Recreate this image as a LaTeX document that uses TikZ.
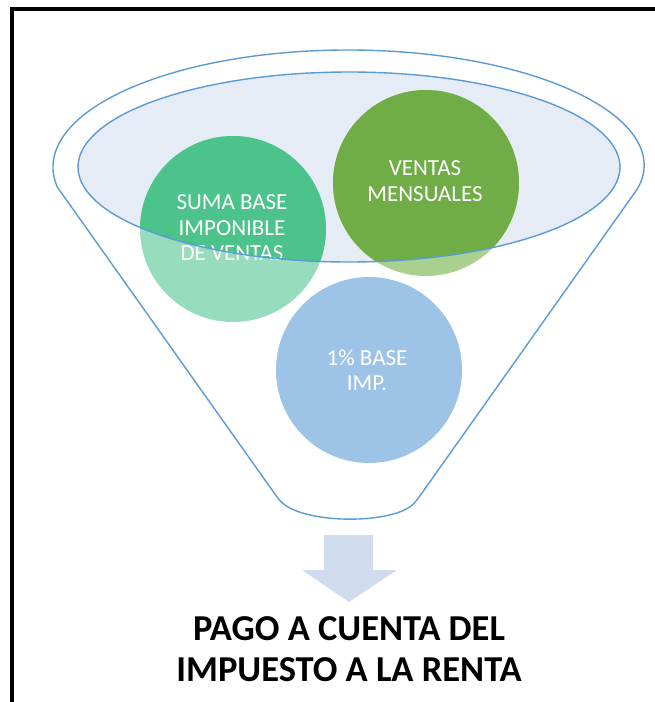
\documentclass[tikz,border=0pt]{standalone}
\usepackage{fontspec}
\setmainfont{Carlito}
\definecolor{lineblue}{HTML}{5B9BD5}
\definecolor{rimfill}{HTML}{E5ECF6}
\definecolor{greendark}{HTML}{4CC38A}
\definecolor{greenlight}{HTML}{97DDBD}
\definecolor{olivedark}{HTML}{70AD47}
\definecolor{olivelight}{HTML}{A9D08E}
\definecolor{bubbleblue}{HTML}{9DC3E6}
\definecolor{arrowblue}{HTML}{D0DCEE}
\begin{document}
\begin{tikzpicture}[x=1pt,y=-1pt,
  funnelline/.style={draw=lineblue, line width=1.4pt},
  bubbletext/.style={text=white, align=center, inner sep=0pt, font=\fontsize{23}{25.5}\selectfont},
  frameline/.style={draw=black, line width=4pt}]
\useasboundingbox (0,0) rectangle (655,702);
% frame
\draw[frameline] (12,702) -- (12,9) -- (655,9);
% inner rim fill
\fill[rimfill] (349,167) ellipse [x radius=271, y radius=95];
% funnel outline
\draw[funnelline, rounded corners=4pt] (57.5,187.3) -- (277,497)
  .. controls (300,525) and (395,525) .. (417,500) -- (638.5,187.3)
  arc[start angle=10, end angle=-190, x radius=295, y radius=117];
% circles, light parts
\fill[greenlight] (233,229) circle[radius=93];
\fill[olivelight] (426,183) circle[radius=93];
\fill[bubbleblue] (369,370) circle[radius=93];
% dark parts inside rim
\begin{scope}
  \clip (349,167) ellipse [x radius=271, y radius=95];
  \fill[greendark] (233,229) circle[radius=93];
  \fill[olivedark] (426,183) circle[radius=93];
\end{scope}
% texts
\node[bubbletext] (suma) at (232,228) {SUMA BASE\\IMPONIBLE\\DE VENTAS};
\node[bubbletext] (ventas) at (425,181) {VENTAS\\MENSUALES};
\node[bubbletext] (base) at (367,370) {1\% BASE\\IMP.};
% rim stroke
\draw[funnelline] (349,167) ellipse [x radius=271, y radius=95];
% arrow
\fill[arrowblue] (324,535) -- (373,535) -- (373,570) -- (397,570) -- (349,602) -- (302,570) -- (324,570) -- cycle;
% result text
\node[align=center, inner sep=0pt, font=\bfseries\fontsize{36.5}{41}\selectfont] (pago) at (349,649) {PAGO A CUENTA DEL\\IMPUESTO A LA RENTA};
\end{tikzpicture}
\end{document}
